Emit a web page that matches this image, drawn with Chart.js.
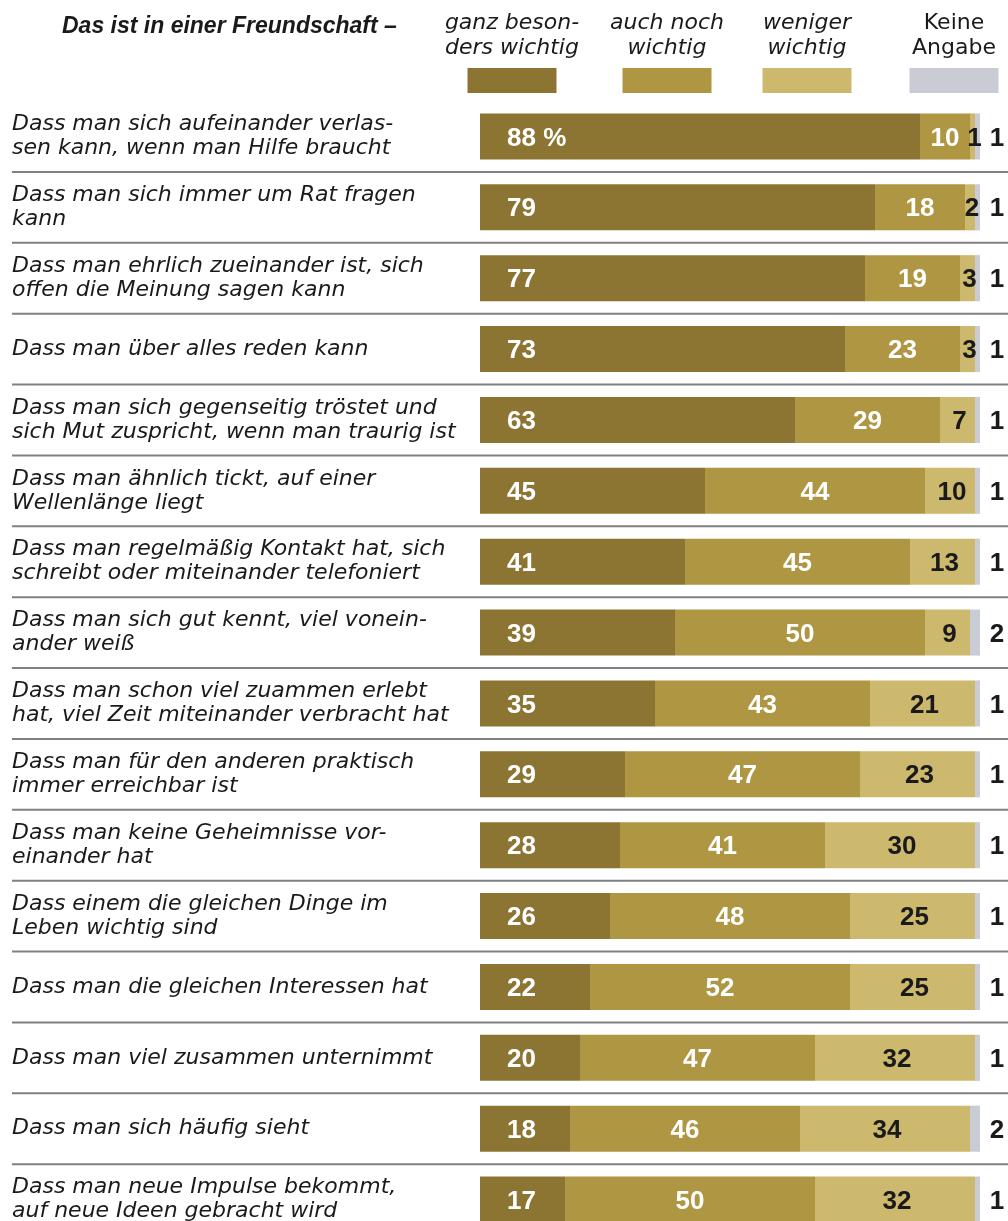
<!DOCTYPE html>
<html>
<head>
<meta charset="utf-8">
<script src="https://cdn.jsdelivr.net/npm/chart.js@4"></script>
<style>
  html, body { margin: 0; padding: 0; background: #fff; overflow: hidden; }
</style>
</head>
<body>
<canvas id="freundChart" width="1008" height="1280"></canvas>
<script>
const categories = [
  ['Dass man sich aufeinander verlas-', 'sen kann, wenn man Hilfe braucht'],
  ['Dass man sich immer um Rat fragen', 'kann'],
  ['Dass man ehrlich zueinander ist, sich', 'offen die Meinung sagen kann'],
  'Dass man über alles reden kann',
  ['Dass man sich gegenseitig tröstet und', 'sich Mut zuspricht, wenn man traurig ist'],
  ['Dass man ähnlich tickt, auf einer', 'Wellenlänge liegt'],
  ['Dass man regelmäßig Kontakt hat, sich', 'schreibt oder miteinander telefoniert'],
  ['Dass man sich gut kennt, viel vonein-', 'ander weiß'],
  ['Dass man schon viel zuammen erlebt', 'hat, viel Zeit miteinander verbracht hat'],
  ['Dass man für den anderen praktisch', 'immer erreichbar ist'],
  ['Dass man keine Geheimnisse vor-', 'einander hat'],
  ['Dass einem die gleichen Dinge im', 'Leben wichtig sind'],
  'Dass man die gleichen Interessen hat',
  'Dass man viel zusammen unternimmt',
  'Dass man sich häufig sieht',
  ['Dass man neue Impulse bekommt,', 'auf neue Ideen gebracht wird']
];

const seriesNames = [
  ['ganz beson-', 'ders wichtig'],
  ['auch noch', 'wichtig'],
  ['weniger', 'wichtig'],
  ['Keine', 'Angabe']
];

const ganzBesonders = [88, 79, 77, 73, 63, 45, 41, 39, 35, 29, 28, 26, 22, 20, 18, 17];
const auchNoch      = [10, 18, 19, 23, 29, 44, 45, 50, 43, 47, 41, 48, 52, 47, 46, 50];
const weniger       = [1, 2, 3, 3, 7, 10, 13, 9, 21, 23, 30, 25, 25, 32, 34, 32];
const keineAngabe   = [1, 1, 1, 1, 1, 1, 1, 2, 1, 1, 1, 1, 1, 1, 2, 1];

const colors = ['#8c7533', '#af9642', '#ccb96e', '#c9ccd5'];
const labelFont = '"DejaVu Sans", sans-serif';
const valueFont = '"Liberation Sans", Arial, sans-serif';

// header: title + column titles with swatches
const headerPlugin = {
  id: 'header',
  afterDraw(chart) {
    const ctx = chart.ctx;
    ctx.save();
    ctx.fillStyle = '#1a1a1a';
    ctx.textBaseline = 'middle';
    ctx.textAlign = 'left';
    ctx.font = 'italic bold 23px ' + valueFont;
    ctx.fillText('Das ist in einer Freundschaft –', 62, 27);

    const centers = [512, 667, 807, 954];
    chart.data.datasets.forEach((ds, i) => {
      ctx.font = (i < 3 ? 'oblique ' : '') + '22px ' + labelFont;
      ctx.textAlign = 'center';
      ctx.fillStyle = '#1a1a1a';
      seriesNames[i].forEach((line, j) => {
        ctx.fillText(line, centers[i], 23 + j * 25);
      });
      ctx.fillStyle = ds.backgroundColor;
      ctx.fillRect(centers[i] - 44.5, 68, 89, 25);
    });
    ctx.restore();
  }
};

// separators between rows
const separatorPlugin = {
  id: 'separators',
  beforeDatasetsDraw(chart) {
    const ctx = chart.ctx;
    const y = chart.scales.y;
    ctx.save();
    ctx.strokeStyle = '#808080';
    ctx.lineWidth = 2;
    for (let i = 0; i < categories.length - 1; i++) {
      const yy = (y.getPixelForValue(i) + y.getPixelForValue(i + 1)) / 2;
      ctx.beginPath();
      ctx.moveTo(12, yy);
      ctx.lineTo(1008, yy);
      ctx.stroke();
    }
    ctx.restore();
  }
};

// numbers inside / next to the bars
const valuePlugin = {
  id: 'values',
  afterDatasetsDraw(chart) {
    const ctx = chart.ctx;
    ctx.save();
    ctx.font = 'bold 26px ' + valueFont;
    ctx.textBaseline = 'middle';
    chart.data.datasets.forEach((ds, d) => {
      const meta = chart.getDatasetMeta(d);
      meta.data.forEach((bar, i) => {
        const v = ds.data[i];
        let text = String(v);
        let x;
        if (d === 0) {
          if (i === 0) text += ' %';
          ctx.textAlign = 'left';
          ctx.fillStyle = '#fff';
          x = bar.base + 27;
        } else if (d === 1) {
          ctx.textAlign = 'center';
          ctx.fillStyle = '#fff';
          x = (bar.base + bar.x) / 2;
        } else if (d === 2) {
          ctx.textAlign = 'center';
          ctx.fillStyle = '#1a1a1a';
          x = (bar.base + bar.x) / 2 + 2;
        } else {
          ctx.textAlign = 'center';
          ctx.fillStyle = '#1a1a1a';
          x = 997;
        }
        ctx.fillText(text, x, bar.y + 2);
      });
    });
    ctx.restore();
  }
};

const ctx = document.getElementById('freundChart').getContext('2d');
new Chart(ctx, {
  type: 'bar',
  data: {
    labels: categories,
    datasets: [
      { label: seriesNames[0].join(' '), data: ganzBesonders, backgroundColor: colors[0] },
      { label: seriesNames[1].join(' '), data: auchNoch, backgroundColor: colors[1] },
      { label: seriesNames[2].join(' '), data: weniger, backgroundColor: colors[2] },
      { label: seriesNames[3].join(' '), data: keineAngabe, backgroundColor: colors[3] }
    ]
  },
  options: {
    indexAxis: 'y',
    responsive: false,
    animation: false,
    layout: { padding: { left: 12, right: 28, top: 101, bottom: 45 } },
    datasets: { bar: { barPercentage: 0.65, categoryPercentage: 1, borderWidth: 0 } },
    scales: {
      x: { stacked: true, min: 0, max: 100, display: false },
      y: {
        stacked: true,
        grid: { display: false },
        border: { display: false },
        afterFit(scale) { scale.width = 468; },
        ticks: {
          crossAlign: 'far',
          color: '#1a1a1a',
          font: { family: labelFont, style: 'oblique', size: 22, lineHeight: '24px' }
        }
      }
    },
    plugins: {
      legend: { display: false },
      tooltip: { enabled: false }
    }
  },
  plugins: [headerPlugin, separatorPlugin, valuePlugin]
});
</script>
</body>
</html>
